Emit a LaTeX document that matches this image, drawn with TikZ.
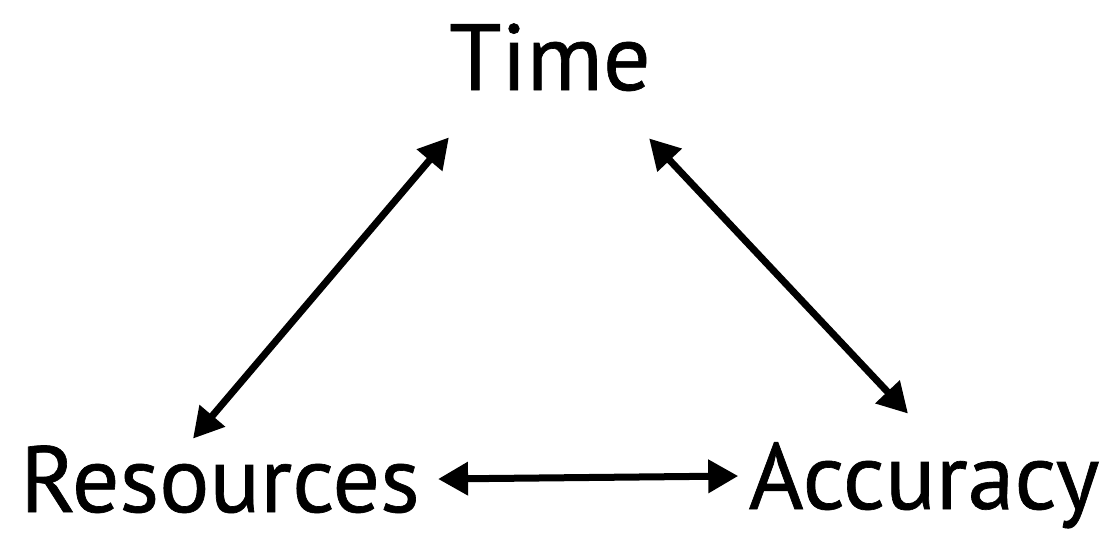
\documentclass[tikz,border=0pt]{standalone}
\usepackage{fontspec}
\newfontfamily\labelfont[FakeBold=0.7]{PT Sans}
\usetikzlibrary{calc, arrows.meta, positioning}
\tikzset{
    labelnode/.style = {draw=none, fill=none, rectangle, inner sep=0em, text height=33pt, text depth=0pt,
      font=\labelfont\fontsize{47}{50}\selectfont},
    twoway/.style = {line width=3.5pt, {Triangle[length=15pt,width=16pt]}-{Triangle[length=15pt,width=16pt]}}
}

\begin{document}
\begin{tikzpicture}[x=0.5pt, y=-0.5pt]
\useasboundingbox (0,0) rectangle (1112,552);
\node [labelnode, name=Time] at (550,57) {Time};
\node [labelnode, name=Res] at (220,479) {Resources};
\node [labelnode, name=Acc] at (924,476) {Accuracy};
\draw [twoway] ([xshift=-13.5pt,yshift=3.5pt]Res.north) -- ([yshift=-23.5pt]Time.south west);
\draw [twoway] ([xshift=-1pt,yshift=-24pt]Time.south east) -- ([xshift=-8pt,yshift=14.5pt]Acc.north);
\draw [twoway] ([xshift=9pt]Res.east) -- ([xshift=-5pt]Acc.west);
\end{tikzpicture}
\end{document}
